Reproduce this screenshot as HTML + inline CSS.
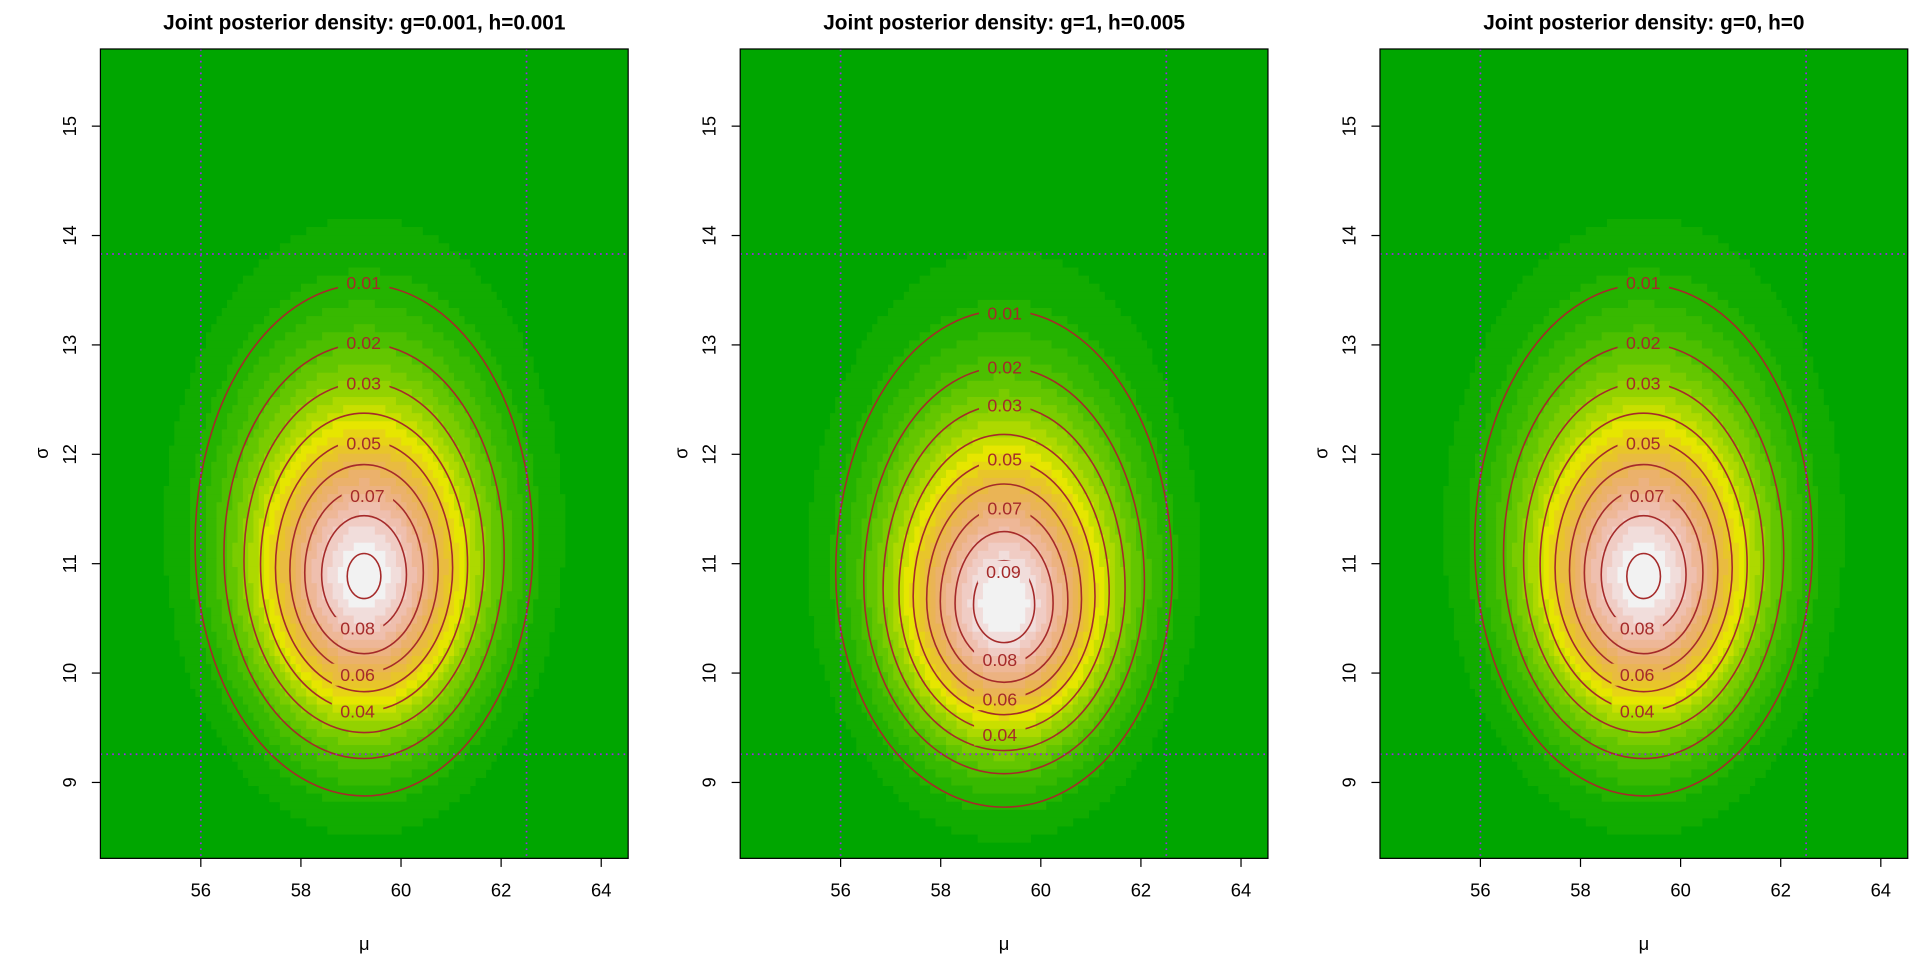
<!DOCTYPE html>
<html><head><meta charset="utf-8"><style>
html,body{margin:0;padding:0;background:#fff;overflow:hidden}
svg{display:block}
text{font-family:"Liberation Sans",Arial,sans-serif}
</style></head><body>
<svg id="s" width="1920" height="960" viewBox="0 0 1568 784" xmlns="http://www.w3.org/2000/svg"></svg>
<script>
const S=document.getElementById('s');
let out='';
function hsv(h,s,v){let i=Math.floor(h*6),f=h*6-i,p=v*(1-s),q=v*(1-f*s),t=v*(1-(1-f)*s);let r,g,b;
switch(((i%6)+6)%6){case 0:r=v;g=t;b=p;break;case 1:r=q;g=v;b=p;break;case 2:r=p;g=v;b=t;break;case 3:r=p;g=q;b=v;break;case 4:r=t;g=p;b=v;break;default:r=v;g=p;b=q;}
const hx=x=>Math.round(x*255).toString(16).padStart(2,'0');return '#'+hx(r)+hx(g)+hx(b);}
function terrain(n){const k=Math.floor(n/2),c=[];
for(let i=0;i<k;i++){const t=k>1?i/(k-1):0;c.push(hsv(4/12+(2/12-4/12)*t,1,0.65+0.25*t));}
const m=n-k+1;for(let i=1;i<m;i++){const t=i/(m-1);c.push(hsv(2/12*(1-t),1-t,0.9+0.05*t));}return c;}
const NC=22,COLS=terrain(NC);
const P=[
 {A:0.092,cx:297.3,cy:471,sx:65.5,top:u=>u*(88+12*u),bot:u=>85*u,title:'Joint posterior density: g=0.001, h=0.001',
  labs:[[0.01,297,231],[0.02,297,280],[0.03,297,313],[0.05,297,362],[0.07,300,405],[0.08,292,513],[0.06,292,551],[0.04,292,581]]},
 {A:0.097,cx:297.5,cy:495,sx:64.5,top:u=>u*(92+10*u),bot:u=>77*u,title:'Joint posterior density: g=1, h=0.005',
  labs:[[0.01,298,256],[0.02,298,300],[0.03,298,331],[0.05,298,375],[0.07,298,415],[0.09,297,467],[0.08,294,539],[0.06,294,571],[0.04,294,600]]},
 {A:0.092,cx:297.3,cy:471,sx:65.5,top:u=>u*(88+12*u),bot:u=>85*u,title:'Joint posterior density: g=0, h=0',
  labs:[[0.01,297,231],[0.02,297,280],[0.03,297,313],[0.05,297,362],[0.07,300,405],[0.08,292,513],[0.06,292,551],[0.04,292,581]]}
];
function shape(p,u){const sh=6*u*u;return {mid:p.cy-sh,rt:p.top(u)-sh,rb:p.bot(u)+sh,rx:p.sx*u};}
function inside(p,u,x,y){const g=shape(p,u);const dx=(x-p.cx)/g.rx;const dy=y-g.mid;const r=dy<0?g.rt:g.rb;return dx*dx+(dy/r)*(dy/r)<=1;}
function dens(p,x,y){let lo=0.0001,hi=6;if(!inside(p,hi,x,y))return 0;for(let i=0;i<22;i++){const m=(lo+hi)/2;if(inside(p,m,x,y))hi=m;else lo=m;}return p.A*Math.exp(-hi*hi/2);}
const X0=82,W=431,Y0=40,H=661;
P.forEach((p,k)=>{
 const ox=k*522.5;
 out+=`<g transform="translate(${ox},0)">`;
 out+=`<rect x="${X0}" y="${Y0}" width="${W}" height="${H}" fill="${COLS[0]}"/>`;
 const nx=100,ny=100,cw=W/nx,ch=H/ny;
 for(let j=0;j<ny;j++){const y=Y0+(j+0.5)*ch;let run=-1,st=0;
  for(let i=0;i<=nx;i++){let ci=-1;if(i<nx){const x=X0+(i+0.5)*cw;const d=dens(p,x,y);ci=Math.min(NC-1,Math.floor(d/p.A*NC));}
   if(ci!==run){if(run>0)out+=`<rect x="${(X0+st*cw).toFixed(2)}" y="${(Y0+j*ch).toFixed(2)}" width="${((i-st)*cw+0.4).toFixed(2)}" height="${(ch+0.4).toFixed(2)}" fill="${COLS[run]}"/>`;run=ci;st=i;}}}
 let mk=`<mask id="m${k}"><rect x="0" y="0" width="600" height="784" fill="#fff"/>`;
 p.labs.forEach(l=>{mk+=`<rect x="${l[1]-21}" y="${l[2]-9}" width="42" height="18" fill="#000"/>`;});
 mk+='</mask>';out+=mk;
 out+=`<g mask="url(#m${k})" fill="none" stroke="#A52A2A" stroke-width="1.3">`;
 const lv=[0.01,0.02,0.03,0.04,0.05,0.06,0.07,0.08,0.09];
 lv.forEach(d=>{if(d>=p.A)return;const u=Math.sqrt(2*Math.log(p.A/d));const g=shape(p,u);
  const L=p.cx-g.rx,R=p.cx+g.rx;
  out+=`<path d="M${L},${g.mid} A${g.rx},${g.rt} 0 0 1 ${R},${g.mid} A${g.rx},${g.rb} 0 0 1 ${L},${g.mid}Z"/>`;});
 out+='</g>';
 p.labs.forEach(l=>{out+=`<text x="${l[1]}" y="${l[2]+5}" font-size="14.5" fill="#A52A2A" text-anchor="middle">${l[0].toFixed(2)}</text>`;});
 out+=`<g stroke="#A020F0" stroke-width="1.4" stroke-dasharray="1.4,3.4">
 <line x1="164" y1="${Y0}" x2="164" y2="${Y0+H}"/><line x1="430" y1="${Y0}" x2="430" y2="${Y0+H}"/>
 <line x1="${X0}" y1="207.4" x2="${X0+W}" y2="207.4"/><line x1="${X0}" y1="616" x2="${X0+W}" y2="616"/></g>`;
 out+=`<rect x="${X0}" y="${Y0}" width="${W}" height="${H}" fill="none" stroke="#000" stroke-width="1"/>`;
 for(let v=56;v<=64;v+=2){const x=164+(v-56)*40.875;out+=`<line x1="${x}" y1="${Y0+H}" x2="${x}" y2="${Y0+H+7}" stroke="#000"/><text x="${x}" y="${Y0+H+31}" font-size="15" text-anchor="middle">${v}</text>`;}
 for(let v=9;v<=15;v++){const y=639-(v-9)*89.33;out+=`<line x1="${X0}" y1="${y}" x2="${X0-7}" y2="${y}" stroke="#000"/><text transform="translate(${X0-20},${y}) rotate(-90)" font-size="15" text-anchor="middle">${v}</text>`;}
 out+=`<text x="297.5" y="776" font-size="15" text-anchor="middle">μ</text>`;
 out+=`<text transform="translate(39,370) rotate(-90)" font-size="15" text-anchor="middle">σ</text>`;
 out+=`<text x="297.5" y="24" font-size="17" font-weight="bold" text-anchor="middle">${p.title}</text>`;
 out+='</g>';
});
S.innerHTML=out;
</script>
</body></html>
